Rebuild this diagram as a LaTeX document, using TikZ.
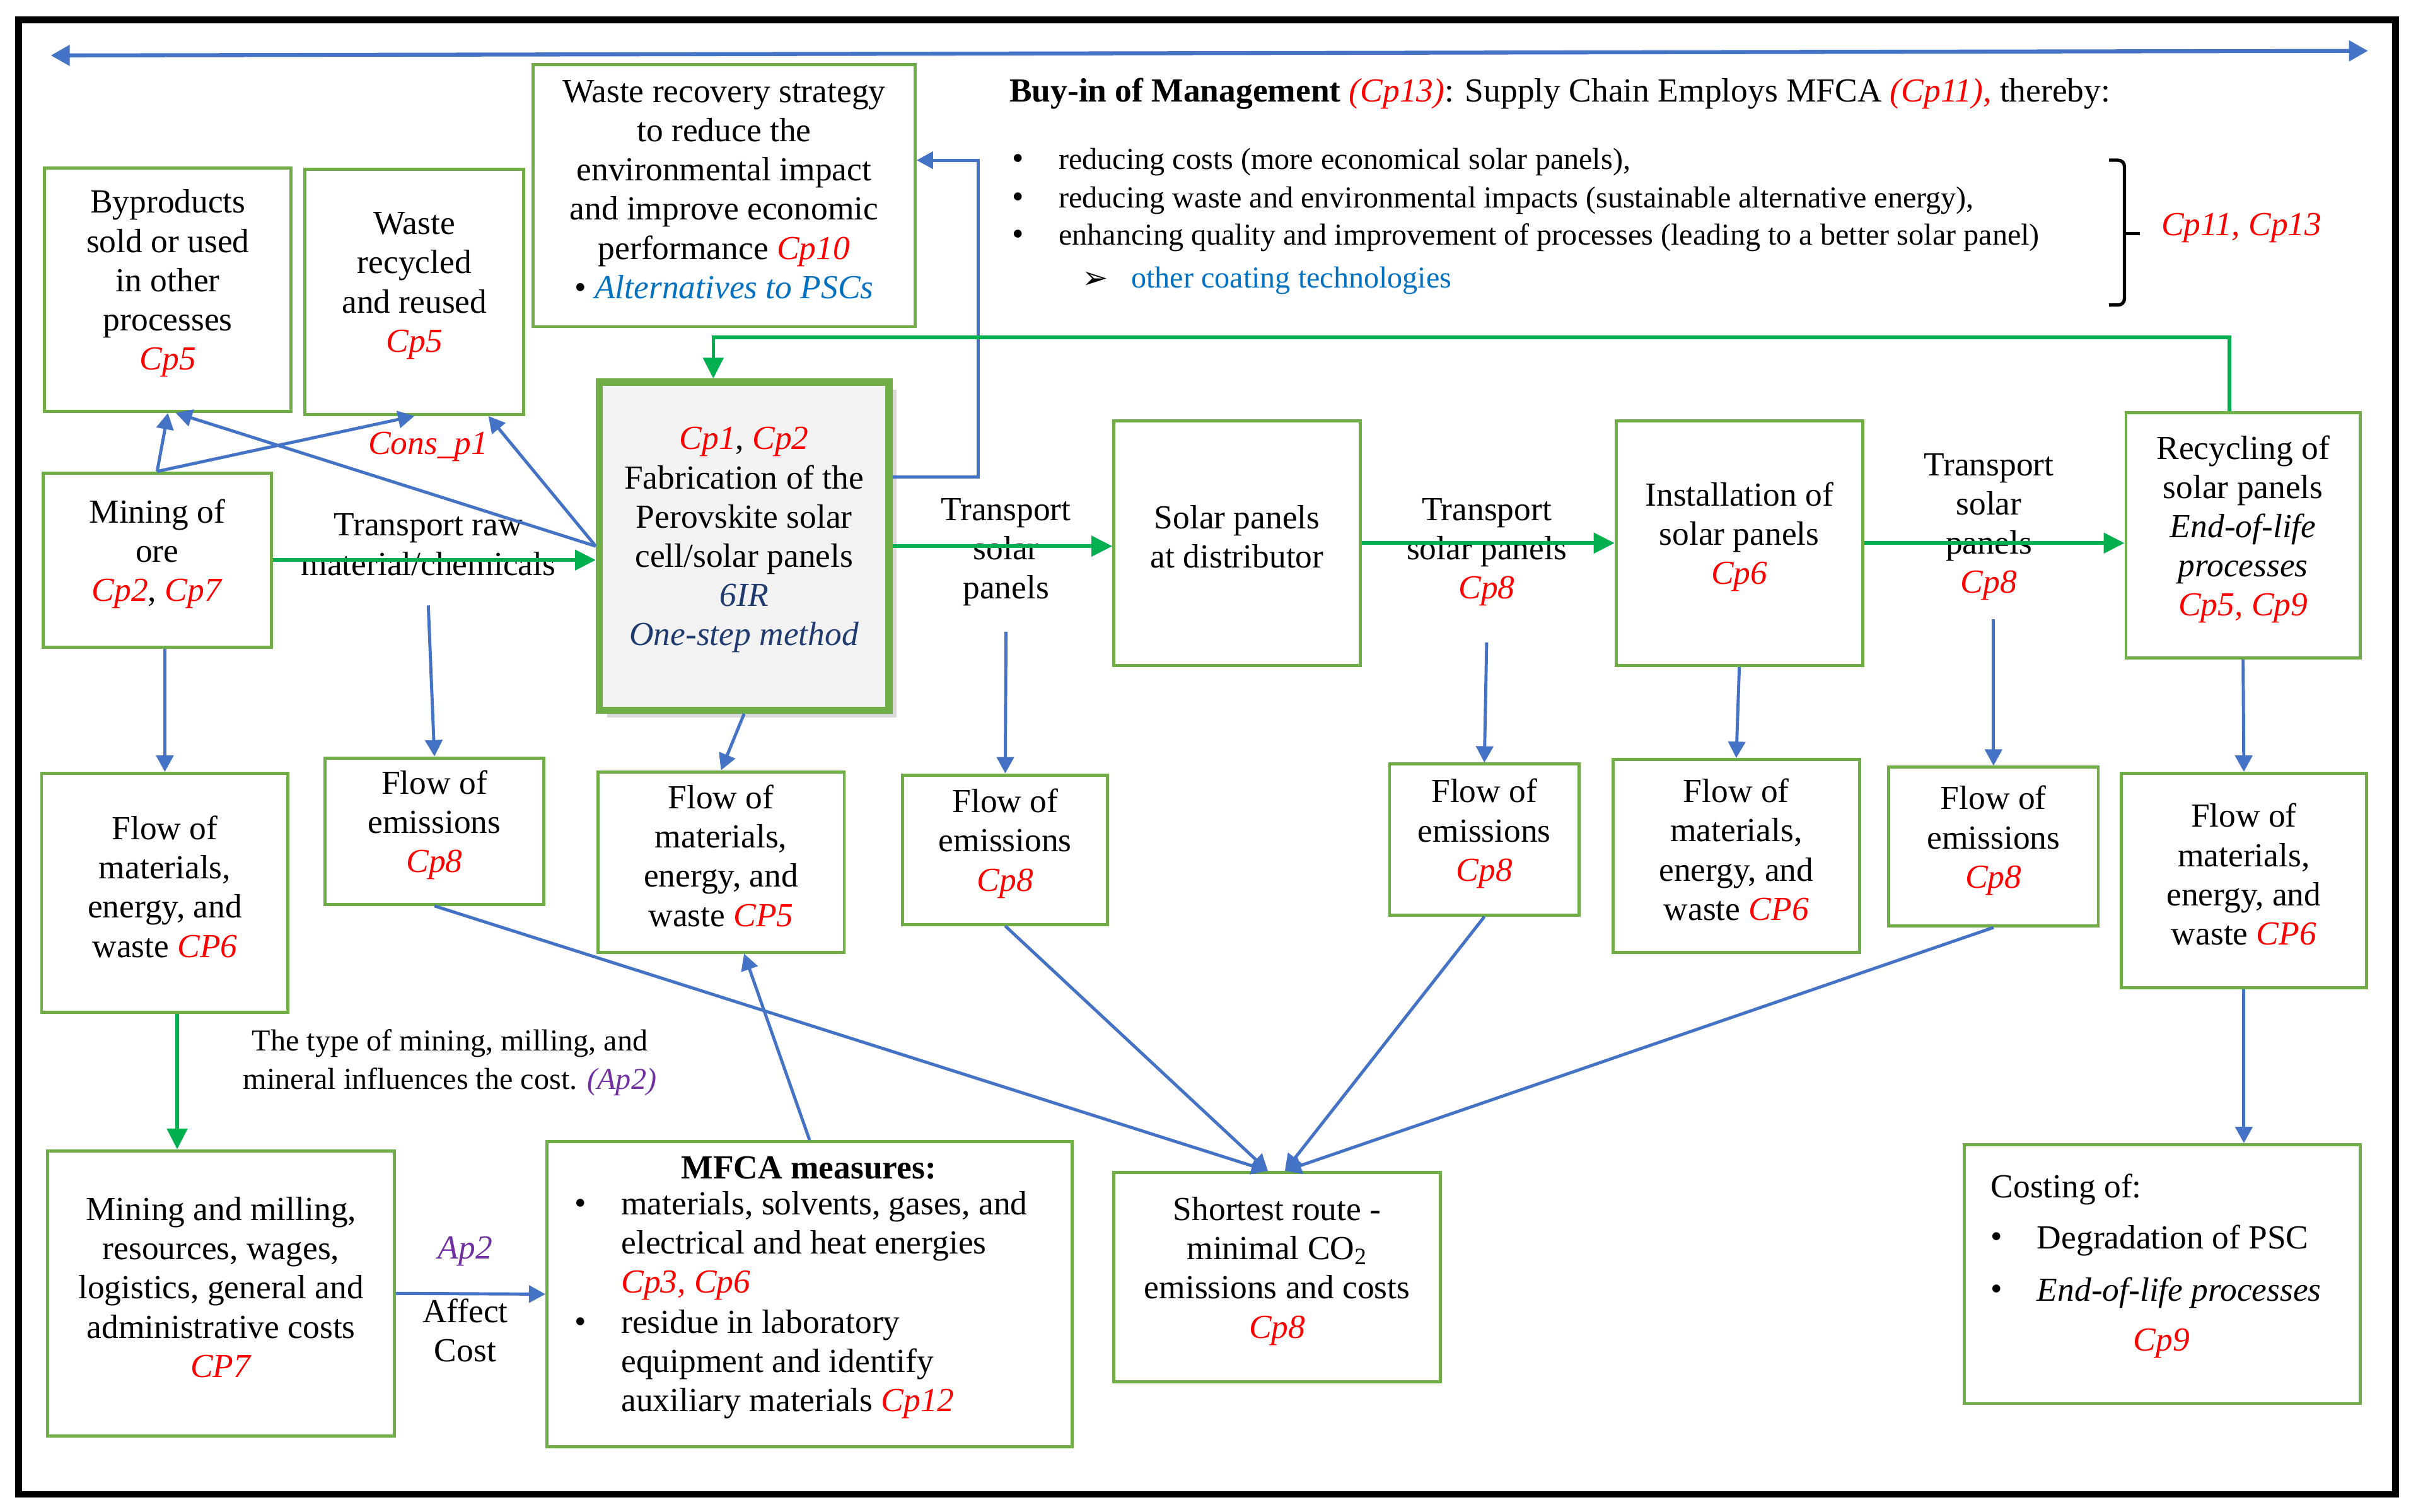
\documentclass[tikz,border=0pt]{standalone}
\usepackage{fontspec}
\setmainfont{Liberation Serif}
\newfontfamily\djv{DejaVu Sans}
\usetikzlibrary{arrows.meta,calc,shadows}
\definecolor{bxg}{HTML}{70AD47}
\definecolor{arg}{HTML}{00B050}
\definecolor{arb}{HTML}{4472C4}
\definecolor{cpr}{HTML}{FF0000}
\definecolor{apv}{HTML}{7030A0}
\definecolor{ltb}{HTML}{0070C0}
\definecolor{nvb}{HTML}{1F3A6E}
\newcommand\rcp[1]{\textcolor{cpr}{\textit{#1}}}
\newcommand\fbig{\fontsize{15.2}{17.7}\selectfont}
\newcommand\fsml{\fontsize{13.7}{17.4}\selectfont}
\newcommand\bigdot{{\fontsize{15}{15}\selectfont\textbullet}}
\def\U{0.2443mm}
\newcommand\bx[7][]{\node[box,#1,minimum width={(#5-#3)*\U},minimum height={(#6-#4)*\U}] (#2) at ({(#3+#5)/2},{(#4+#6)/2}) {};
  \node[txt] (#2t) at ({(#3+#5)/2},{(#4+#6)/2-4}) {#7};}
\begin{document}
\begin{tikzpicture}[x=0.2443mm,y=-0.2443mm,
  box/.style={draw=bxg, line width=1.4pt, inner sep=0pt},
  txt/.style={inner sep=0pt, align=center, font=\fbig},
  stxt/.style={inner sep=0pt, align=left, font=\fsml},
  bul/.style={inner sep=0pt},
  barr/.style={draw=arb, line width=1.4pt, -{Triangle[length=2.6mm,width=2.7mm]}},
  garr/.style={draw=arg, line width=1.6pt, -{Triangle[length=3.3mm,width=3.2mm]}}]
\useasboundingbox (0,0) rectangle (1565,981);
\draw[line width=3pt] (12,13) rectangle (1555,970);

% top double arrow
\coordinate (tl) at (33,36);
\coordinate (tr) at (1537,33);
\draw[draw=arb, line width=1.8pt, {Triangle[length=3mm,width=3.2mm]}-{Triangle[length=3mm,width=3.2mm]}] (tl) -- (tr);

% boxes top
\bx{wrs}{346}{42}{594}{212}{Waste recovery strategy\\to reduce the\\environmental impact\\and improve economic\\performance \rcp{Cp10}\\\textbullet\ \textcolor{ltb}{\textit{Alternatives to PSCs}}}
\bx{byp}{29}{109}{189}{267}{Byproducts\\sold or used\\in other\\processes\\\rcp{Cp5}}
\bx{wrec}{198}{110}{340}{269}{Waste\\recycled\\and reused\\\rcp{Cp5}}
\bx{mine}{28}{307}{176}{420}{Mining of\\ore\\\rcp{Cp2}, \rcp{Cp7}}
\bx[line width=3.2pt, fill=black!5, drop shadow={shadow xshift=1.2mm, shadow yshift=-1.2mm, opacity=0.3}]{fab}{389}{248}{577}{461}{\rcp{Cp1}, \rcp{Cp2}\\Fabrication of the\\Perovskite solar\\cell/solar panels\\\textcolor{nvb}{\textit{6IR}}\\\textcolor{nvb}{\textit{One-step method}}}
\bx{dist}{723}{273}{883}{432}{Solar panels\\at distributor}
\bx{inst}{1049}{273}{1209}{432}{Installation of\\solar panels\\\rcp{Cp6}}
\bx{rec}{1380}{268}{1532}{427}{Recycling of\\solar panels\\\textit{End-of-life}\\\textit{processes}\\\rcp{Cp5, Cp9}}

% flow row
\bx{fm6a}{27}{502}{187}{657}{Flow of\\materials,\\energy, and\\waste \rcp{CP6}}
\bx{em1}{211}{492}{353}{587}{Flow of\\emissions\\\rcp{Cp8}}
\bx{fm5}{388}{501}{548}{618}{Flow of\\materials,\\energy, and\\waste \rcp{CP5}}
\bx{em2}{586}{503}{719}{600}{Flow of\\emissions\\\rcp{Cp8}}
\bx{em3}{902}{496}{1025}{594}{Flow of\\emissions\\\rcp{Cp8}}
\bx{fm6b}{1047}{493}{1207}{618}{Flow of\\materials,\\energy, and\\waste \rcp{CP6}}
\bx{em4}{1226}{498}{1362}{601}{Flow of\\emissions\\\rcp{Cp8}}
\bx{fm6c}{1377}{502}{1536}{641}{Flow of\\materials,\\energy, and\\waste \rcp{CP6}}

% bottom row
\bx{mm}{31}{747}{256}{932}{Mining and milling,\\resources, wages,\\logistics, general and\\administrative costs\\\rcp{CP7}}
\bx{sr}{723}{761}{935}{897}{Shortest route -\\minimal CO\textsubscript{2}\\emissions and costs\\\rcp{Cp8}}
\node[box, minimum width={341*\U}, minimum height={198*\U}] (mfca) at (525.5,840) {};
\node[box, minimum width={257*\U}, minimum height={168*\U}] (cost) at (1403.5,827) {};

% MFCA contents
\node[txt] (mfh) at (525,758) {\textbf{MFCA measures:}};
\node[bul] (mfb1) at (377,783) {\bigdot};
\node[txt, align=left, anchor=west] (mfi1) at (403,808.5) {materials, solvents, gases, and\\electrical and heat energies\\\rcp{Cp3, Cp6}};
\node[bul] (mfb2) at (377,860) {\bigdot};
\node[txt, align=left, anchor=west] (mfi2) at (403,885.5) {residue in laboratory\\equipment and identify\\auxiliary materials \rcp{Cp12}};

% Costing contents
\node[txt, anchor=west] (cst) at (1292,772) {Costing of:};
\node[bul] (cb1) at (1296,805) {\bigdot};
\node[txt, anchor=west] (ci1) at (1322,805) {Degradation of PSC};
\node[bul] (cb2) at (1296,839) {\bigdot};
\node[txt, anchor=west] (ci2) at (1322,839) {\textit{End-of-life processes}};
\node[txt] (cp9) at (1403,872) {\rcp{Cp9}};

% top texts
\node[txt, anchor=west] (buy) at (655,61) {\textbf{Buy-in of Management} \textcolor{cpr}{\textit{(Cp13)}}: Supply Chain Employs MFCA \textcolor{cpr}{\textit{(Cp11),}} thereby:};
\node[bul] (tb1) at (661,105) {\bigdot};
\node[stxt, anchor=west] (tt1) at (687,105) {reducing costs (more economical solar panels),};
\node[bul] (tb2) at (661,130) {\bigdot};
\node[stxt, anchor=west] (tt2) at (687,130) {reducing waste and environmental impacts (sustainable alternative energy),};
\node[bul] (tb3) at (661,154) {\bigdot};
\node[stxt, anchor=west] (tt3) at (687,154) {enhancing quality and improvement of processes (leading to a better solar panel)};
\node[bul] (tb4) at (711,182) {{\djv\fontsize{14}{14}\selectfont ➢}};
\node[stxt, anchor=west] (tt4) at (734,182) {\textcolor{ltb}{other coating technologies}};
\coordinate (brt) at (1369,104);
\coordinate (brb) at (1369,198);
\coordinate (brm) at (1379,151.5);
\coordinate (brtip) at (1389,151.5);
\draw[line width=1.5pt, rounded corners=1mm] (brt) -| (brm) |- (brb);
\draw[line width=1.5pt] (brm) -- (brtip);
\node[txt] (cp1113) at (1455,148) {\rcp{Cp11, Cp13}};

% labels
\node[txt, text=cpr] (cons) at (278,290) {\textit{Cons\_p1}};
\node[txt] (lraw) at (278,353.5) {Transport raw\\material/chemicals};
\node[txt] (lt1) at (653,358.5) {Transport\\solar\\panels};
\node[txt] (lt2) at (965,358.5) {Transport\\solar panels\\\rcp{Cp8}};
\node[txt] (lt3) at (1291,342) {Transport\\solar\\panels\\\rcp{Cp8}};
\node[stxt, align=center] (ltype) at (292,689.5) {The type of mining, milling, and\\mineral influences the cost. \textcolor{apv}{\textit{(Ap2)}}};
\node[txt, text=apv] (lap2) at (302,812) {\textit{Ap2}};
\node[txt] (laff) at (302,863.5) {Affect\\Cost};

% connectors top-left
\draw[barr] (mine.north) -- (byp.south);
\draw[barr] (mine.north) -- (wrec.south);
\draw[barr] (fab.west) -- ($(byp.south)+(5,0)$);
\draw[barr] (fab.west) -- ($(wrec.south)+(48,0)$);
\draw[garr] (mine.east) -- (mine.east -| fab.west);
\draw[barr] ($(fab.east)+(0,-45)$) -| ($(wrs.east)+(40,-23)$) -- ($(wrs.east)+(0,-23)$);
\draw[garr] ($(rec.north)+(-9,0)$) -- ++(0,-48) -| ($(fab.north)+(-20,0)$);

% main chain
\draw[garr] (fab.east) -- (fab.east -| dist.west);
\draw[garr] (dist.east) -- (inst.west);
\draw[garr] (inst.east) -- (inst.east -| rec.west);

% downward arrows
\coordinate (s1) at (278,393);
\coordinate (s2) at (653,410);
\coordinate (s3) at (965,417);
\coordinate (s4) at (1294,402);
\draw[barr] (fm6a.north |- mine.south) -- (fm6a.north);
\draw[barr] (s1) -- (em1.north);
\draw[barr] (fab.south) -- (fm5.north);
\draw[barr] (s2) -- (em2.north);
\draw[barr] (s3) -- (em3.north);
\draw[barr] (inst.south) -- (fm6b.north);
\draw[barr] (s4) -- (em4.north);
\draw[barr] (rec.south) -- (fm6c.north);

% lower connectors
\coordinate (g1) at ($(fm6a.south)+(8,0)$);
\draw[garr] (g1) -- (g1 |- mm.north);
\draw[barr] (mm.east) -- (mfca.west);
\draw[barr] (mfca.north) -- ($(fm5.south)+(15,0)$);
\draw[barr] (em1.south) -- ($(sr.north)+(-6,0)$);
\draw[barr] (em2.south) -- ($(sr.north)+(-6,0)$);
\draw[barr] (em3.south) -- ($(sr.north)+(5,0)$);
\draw[barr] (em4.south) -- ($(sr.north)+(5,0)$);
\draw[barr] (fm6c.south) -- (fm6c.south |- cost.north);
\end{tikzpicture}
\end{document}
